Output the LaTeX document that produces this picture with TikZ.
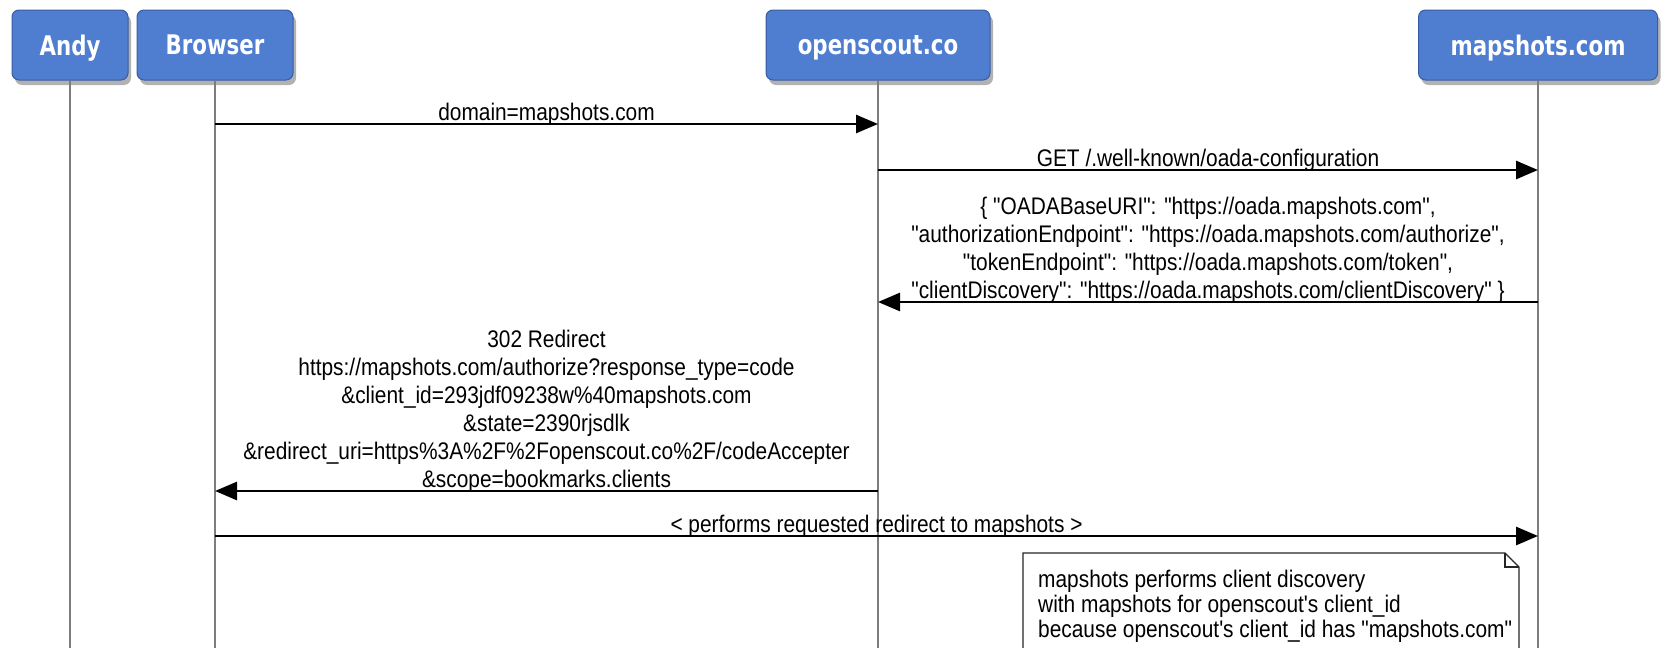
\documentclass[tikz,border=0pt]{standalone}
\usepackage{fontspec}
\setmainfont{Liberation Sans}[FakeStretch=0.87,Ligatures=TeXOff]
\newfontfamily\headfont{DejaVu Sans}[FakeStretch=0.79]
\usetikzlibrary{arrows.meta,shadows,calc}
\definecolor{actorblue}{RGB}{79,125,208}
\definecolor{actorborder}{RGB}{58,92,160}
\definecolor{lifegray}{RGB}{125,125,125}
\begin{document}
\begin{tikzpicture}[x=1pt,y=-1pt,
  actor/.style={draw=actorborder, line width=1pt, fill=actorblue, rounded corners=7pt,
    text=white, font=\headfont\bfseries\fontsize{27}{32}\selectfont,
    minimum height=70pt, inner sep=0pt, text depth=0pt,
    drop shadow={shadow xshift=3pt,shadow yshift=-5pt,opacity=0.3,fill=black}},
  lifeline/.style={draw=lifegray,line width=2pt},
  msg/.style={draw=black,line width=2.8pt,-{Triangle[length=22pt,width=18pt]}},
  lbl/.style={font=\fontsize{24}{28}\selectfont, align=center, inner sep=0pt, anchor=south, text=black},
  notebox/.style={draw=black!85,line width=1.3pt,fill=white},
  notetext/.style={font=\fontsize{24}{25}\selectfont, align=left, inner sep=0pt, anchor=north west, text=black}
]
\useasboundingbox (0,0) rectangle (1663,648);
\fill[white] (0,0) rectangle (1663,648);
\coordinate (bottom) at (0,670);

\node[actor, minimum width=116pt] (andy) at (70,45) {Andy};
\node[actor, minimum width=156pt] (browser) at (215,45) {Browser};
\node[actor, minimum width=224pt] (openscout) at (878,45) {openscout.co};
\node[actor, minimum width=239pt] (mapshots) at (1538,45) {mapshots.com};

\draw[lifeline] (andy.south) -- (andy.south |- bottom);
\draw[lifeline] (browser.south) -- (browser.south |- bottom);
\draw[lifeline] (openscout.south) -- (openscout.south |- bottom);
\draw[lifeline] (mapshots.south) -- (mapshots.south |- bottom);

\coordinate (b1) at (browser.south |- 0,124);
\coordinate (o1) at (openscout.south |- 0,124);
\coordinate (o2) at (openscout.south |- 0,170);
\coordinate (m2) at (mapshots.south |- 0,170);
\coordinate (m3) at (mapshots.south |- 0,302);
\coordinate (o3) at (openscout.south |- 0,302);
\coordinate (o4) at (openscout.south |- 0,491);
\coordinate (b4) at (browser.south |- 0,491);
\coordinate (b5) at (browser.south |- 0,536);
\coordinate (m5) at (mapshots.south |- 0,536);

\draw[msg] (b1) -- (o1);
\node[lbl] (l1) at ($(b1)!0.5!(o1)+(0,5)$) {domain=mapshots.com\strut};

\draw[msg] (o2) -- (m2);
\node[lbl] (l2) at ($(o2)!0.5!(m2)+(0,5)$) {GET /.well-known/oada-configuration\strut};

\draw[msg] (m3) -- (o3);
\node[lbl] (l3) at ($(o3)!0.5!(m3)+(0,5)$) {\{ "OADABaseURI": "https://oada.mapshots.com",\\
"authorizationEndpoint": "https://oada.mapshots.com/authorize",\\
"tokenEndpoint": "https://oada.mapshots.com/token",\\
"clientDiscovery": "https://oada.mapshots.com/clientDiscovery" \}\strut};

\draw[msg] (o4) -- (b4);
\node[lbl] (l4) at ($(b4)!0.5!(o4)+(0,5)$) {302 Redirect\\
https://mapshots.com/authorize?response\_type=code\\
\&client\_id=293jdf09238w\%40mapshots.com\\
\&state=2390rjsdlk\\
\&redirect\_uri=https\%3A\%2F\%2Fopenscout.co\%2F/codeAccepter\\
\&scope=bookmarks.clients\strut};

\draw[msg] (b5) -- (m5);
\node[lbl] (l5) at ($(b5)!0.5!(m5)+(0,5)$) {< performs requested redirect to mapshots >\strut};

\draw[notebox] (1023,670) -- (1023,553) -- (1505,553) -- (1519,567) -- (1519,670) -- cycle;
\draw[notebox,fill=none] (1505,553) -- (1505,567) -- (1519,567);
\node[notetext] (note) at (1038,570) {mapshots performs client discovery\\
with mapshots for openscout's client\_id\\
because openscout's client\_id has "mapshots.com"};
\end{tikzpicture}
\end{document}
